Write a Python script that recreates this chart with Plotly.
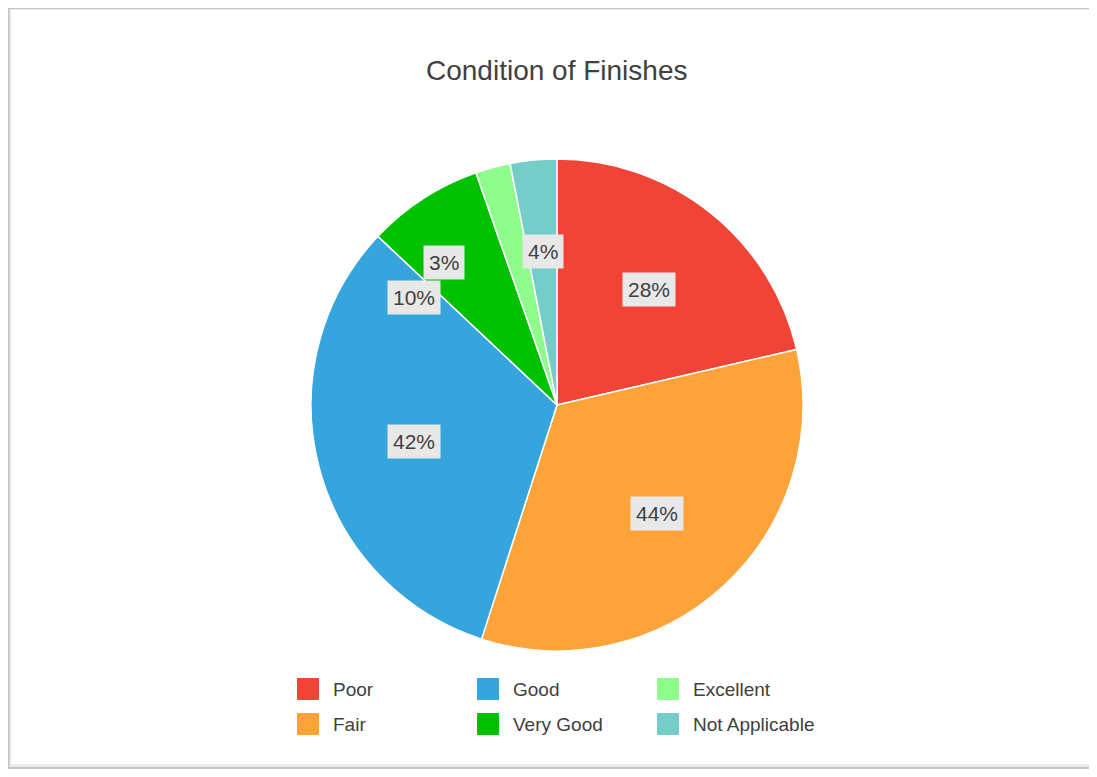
import math
import plotly.graph_objects as go

# ---- data ----
categories = ["Poor", "Fair", "Good", "Very Good", "Excellent", "Not Applicable"]
values = [28, 44, 42, 10, 3, 4]
label_texts = ["28%", "44%", "42%", "10%", "3%", "4%"]
colors = ["#F04436", "#FEA23A", "#37A5DD", "#00C100", "#8EFD8B", "#74CDC8"]
legend_order = ["Poor", "Good", "Excellent", "Fair", "Very Good", "Not Applicable"]
title_text = "Condition of Finishes"

# ---- layout constants (window pixels, from top-left) ----
OX, OY = 8, 8                       # page body margin offset
FW, FH = 1097 - 8, 777 - 16         # figure size
CX, CY, R = 557, 405, 246           # pie centre / radius
LABEL_R = 0.6                       # fraction of radius where labels sit
# collision-avoidance nudges for crowded labels (pixels: dx, dy-down)
label_nudge = [(0, 0), (0, 0), (0, 0), (-63, 16), (-75, 0), (0, -7)]


def px(x):
    return (x - OX) / FW


def py(y):
    return 1 - (y - OY) / FH


FONT = "Arial, 'Liberation Sans', Helvetica, sans-serif"
TXT = "#404040"

fig = go.Figure()
fig.add_trace(go.Pie(
    labels=categories,
    values=values,
    sort=False,
    direction="clockwise",
    rotation=0,
    marker=dict(colors=colors, line=dict(color="white", width=1.5)),
    textinfo="none",
    hoverinfo="label+value",
    showlegend=False,
    domain=dict(x=[px(CX - R), px(CX + R)], y=[py(CY + R), py(CY - R)]),
))

annotations = []
shapes = []

# slice labels, placed at the mid-angle of each slice
total = sum(values)
cum = 0
for i, (v, t) in enumerate(zip(values, label_texts)):
    mid = (cum + v / 2) / total * 2 * math.pi
    cum += v
    lx = CX + LABEL_R * R * math.sin(mid)
    ly = CY - LABEL_R * R * math.cos(mid)
    dx, dy = label_nudge[i]
    annotations.append(dict(
        x=px(lx), y=py(ly), xref="paper", yref="paper",
        text=t, showarrow=False, xanchor="center", yanchor="middle",
        xshift=dx, yshift=-dy,
        font=dict(family=FONT, size=21, color=TXT),
        bgcolor="#E8E8E8", borderpad=5,
    ))

# title
annotations.append(dict(
    x=px(556), y=py(70), xref="paper", yref="paper", text=title_text,
    showarrow=False, xanchor="center", yanchor="middle",
    font=dict(family=FONT, size=28, color=TXT),
))

# legend (3 columns x 2 rows)
col_x = [297, 477, 657]
row_y = [689, 724]
SW = 22
for k, name in enumerate(legend_order):
    r, c = divmod(k, 3)
    x0, yc = col_x[c], row_y[r]
    col = colors[categories.index(name)]
    shapes.append(dict(type="rect", xref="paper", yref="paper",
                       x0=px(x0), x1=px(x0 + SW), y0=py(yc + SW / 2), y1=py(yc - SW / 2),
                       fillcolor=col, line=dict(width=0)))
    annotations.append(dict(
        x=px(x0 + 34), y=py(yc), xref="paper", yref="paper", text=name,
        showarrow=False, xanchor="left", yanchor="middle",
        font=dict(family=FONT, size=19, color=TXT),
    ))

# frame with soft shadow
shapes.append(dict(type="rect", xref="paper", yref="paper", layer="below",
                   x0=px(0), x1=px(1120), y0=py(780), y1=py(0),
                   fillcolor="#C4C4C4", line=dict(width=0)))
shapes.append(dict(type="rect", xref="paper", yref="paper", layer="below",
                   x0=px(9.5), x1=px(1120), y0=py(767), y1=py(9),
                   fillcolor="#ECECEC", line=dict(width=0)))
shapes.append(dict(type="rect", xref="paper", yref="paper", layer="below",
                   x0=px(11.5), x1=px(1120), y0=py(764), y1=py(10),
                   fillcolor="white", line=dict(width=0)))

fig.update_layout(
    width=FW, height=FH,
    margin=dict(l=0, r=0, t=0, b=0),
    paper_bgcolor="white", plot_bgcolor="white",
    annotations=annotations, shapes=shapes,
    showlegend=False,
)

fig.write_html("out.html")
